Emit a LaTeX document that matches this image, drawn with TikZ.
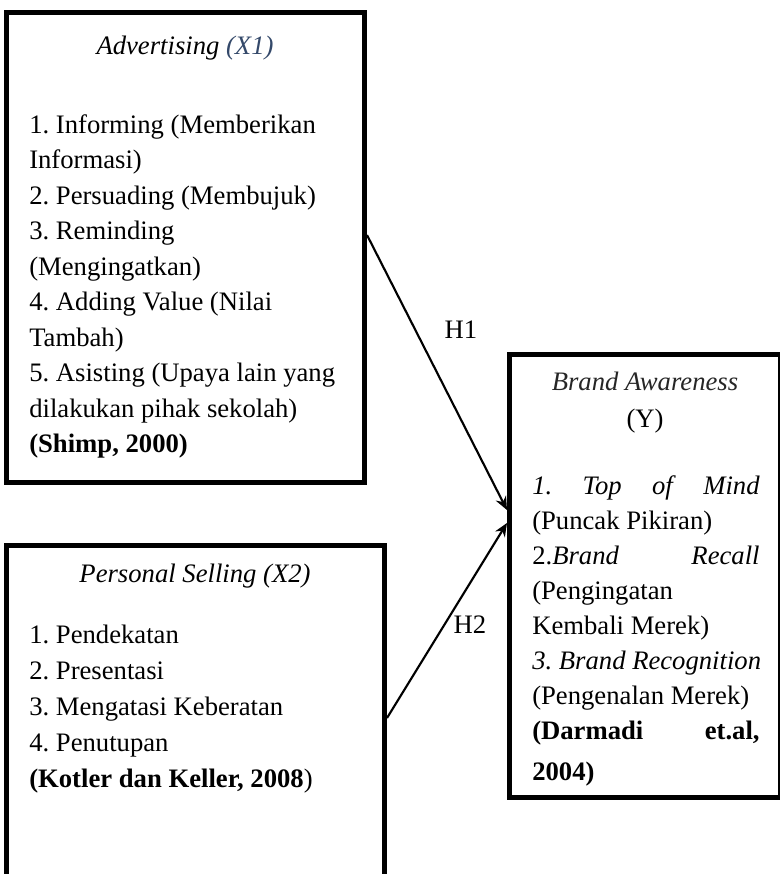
\documentclass[tikz,border=0pt]{standalone}
\usepackage{fontspec}
\setmainfont{Liberation Serif}
\usetikzlibrary{arrows.meta}
\definecolor{judulX}{HTML}{34496A}
\frenchspacing

\begin{document}
\begin{tikzpicture}[
    x=0.75pt,
    y=-0.75pt,
    >={Stealth[length=10pt,width=8.5pt]},
    every node/.style={font=\fontsize{20}{24}\selectfont, inner sep=0pt},
    kotak/.style={draw, line width=3.75pt},
    baris/.style={anchor=base west},
    judul/.style={anchor=base, font=\fontsize{20}{24}\selectfont\itshape},
    panah/.style={->, line width=1.6pt}
  ]

  % --- 0. ukuran gambar ---
  \useasboundingbox (0,0) rectangle (780,874);

  % --- 1. kotak variabel ---
  \node[kotak, minimum width=268.5pt, minimum height=352.5pt] (adv) at (185.5,247.5) {};
  \node[kotak, minimum width=283.5pt, minimum height=248pt] (ps) at (195.5,710.75) {};
  \node[kotak, minimum width=202.9pt, minimum height=332.25pt] (ba) at (644.75,576) {};

  % --- 2. Advertising (X1) ---
  \node[judul] (advJ) at (185,55) {Advertising {\color{judulX}(X1)}};
  \node[baris] (adv1) at (29,133) {1. Informing (Memberikan};
  \node[baris] (adv2) at (29,168.5) {Informasi)};
  \node[baris] (adv3) at (29,204) {2. Persuading (Membujuk)};
  \node[baris] (adv4) at (29,239.5) {3. Reminding};
  \node[baris] (adv5) at (29,275) {(Mengingatkan)};
  \node[baris] (adv6) at (29,310.5) {4. Adding Value (Nilai};
  \node[baris] (adv7) at (29,346) {Tambah)};
  \node[baris] (adv8) at (29,381.5) {5. Asisting (Upaya lain yang};
  \node[baris] (adv9) at (29,417) {dilakukan pihak sekolah)};
  \node[baris] (adv10) at (29,452.5) {\bfseries (Shimp, 2000)};

  % --- 3. Personal Selling (X2) ---
  \node[judul] (psJ) at (195,582) {Personal Selling (X2)};
  \node[baris] (ps1) at (29,643) {1. Pendekatan};
  \node[baris] (ps2) at (29,679) {2. Presentasi};
  \node[baris] (ps3) at (29,715) {3. Mengatasi Keberatan};
  \node[baris] (ps4) at (29,751) {4. Penutupan};
  \node[baris] (ps5) at (29,787) {\textbf{(Kotler dan Keller, 2008})};

  % --- 4. Brand Awareness (Y) ---
  \node[judul, black!85] (baJ) at (645,390) {Brand Awareness};
  \node[anchor=base] (baY) at (645,427) {(Y)};
  \node[baris] (ba1) at (532,494) {\makebox[170.5pt][s]{\itshape 1. Top of Mind}};
  \node[baris] (ba2) at (532,529) {(Puncak Pikiran)};
  \node[baris] (ba3) at (532,564) {\makebox[170.5pt][s]{2.\itshape Brand Recall}};
  \node[baris] (ba4) at (532,599) {(Pengingatan};
  \node[baris] (ba5) at (532,634) {Kembali Merek)};
  \node[baris] (ba6) at (532,669) {\itshape 3. Brand Recognition};
  \node[baris] (ba7) at (532,704) {(Pengenalan Merek)};
  \node[baris] (ba8) at (532,739) {\makebox[170.5pt][s]{\bfseries (Darmadi et.al,}};
  \node[baris] (ba9) at (532,780) {\bfseries 2004)};

  % --- 5. hipotesis ---
  \draw[panah] (adv.east |- 0,235) -- (ba.west |- 0,510);
  \draw[panah] (ps.east |- 0,718) -- (ba.west |- 0,523);
  \node[anchor=base] (h1) at (461,338) {H1};
  \node[anchor=base] (h2) at (470,633) {H2};

\end{tikzpicture}
\end{document}
